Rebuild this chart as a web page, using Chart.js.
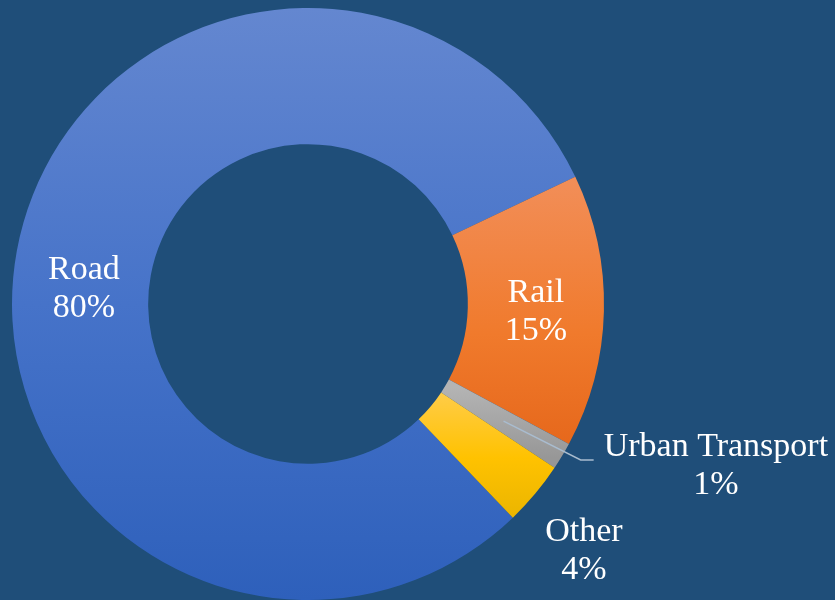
<!DOCTYPE html>
<html>
<head>
<meta charset="utf-8">
<script src="https://cdn.jsdelivr.net/npm/chart.js@4"></script>
<style>
html,body{margin:0;padding:0;background:#1F4E79;}
#wrap{width:835px;height:600px;position:relative;}
</style>
</head>
<body>
<div id="wrap"><canvas id="c" width="835" height="600"></canvas></div>
<script>
const categories = ['Road', 'Rail', 'Urban Transport', 'Other'];
const shares = [80.1, 14.9, 1.5, 3.5];
const shareLabels = ['80%', '15%', '1%', '4%'];

// colour stops per slice (fraction of chart height, colour)
const sliceStops = [
  [[0, '#6487D0'], [0.5, '#4673C9'], [1, '#2E60BB']],
  [[0.29, '#F28E58'], [0.55, '#F07A2C'], [0.76, '#E5661A']],
  [[0.64, '#B4B4B4'], [0.76, '#979797']],
  [[0.65, '#FFCC48'], [0.76, '#FFC200'], [0.87, '#E9B400']]
];
// label placement: null = slice centre, otherwise offset from chart centre in outer radii
const labelPlace = [
  {fx: -0.757, fy: -0.061},
  null,
  {fx: 1.378, fy: 0.537, leader: true},
  {fx: 0.932, fy: 0.824}
];

function gradientFor(ctx, area, stops) {
  const g = ctx.createLinearGradient(0, area.top, 0, area.bottom);
  stops.forEach(s => g.addColorStop(s[0], s[1]));
  return g;
}

const labelPlugin = {
  id: 'sliceLabels',
  afterDatasetsDraw(chart) {
    const ctx = chart.ctx;
    const meta = chart.getDatasetMeta(0);
    ctx.save();
    ctx.font = '34px "Liberation Serif", serif';
    ctx.fillStyle = '#FFFFFF';
    ctx.textAlign = 'center';
    ctx.textBaseline = 'alphabetic';
    meta.data.forEach((arc, i) => {
      const p = arc.getProps(['x', 'y', 'outerRadius'], true);
      let x, y;
      const pl = labelPlace[i];
      if (!pl) {
        const tp = arc.tooltipPosition(true);
        x = tp.x; y = tp.y;
      } else {
        x = p.x + pl.fx * p.outerRadius;
        y = p.y + pl.fy * p.outerRadius;
      }
      if (pl && pl.leader) {
        const tp = arc.tooltipPosition(true);
        const w = ctx.measureText(categories[i]).width;
        const endX = x - w / 2 - 10;
        ctx.strokeStyle = '#A9BCCF';
        ctx.lineWidth = 1.5;
        ctx.beginPath();
        ctx.moveTo(tp.x, tp.y);
        ctx.lineTo(endX - 13, y - 3);
        ctx.lineTo(endX, y - 3);
        ctx.stroke();
      }
      ctx.fillText(categories[i], x, y - 7);
      ctx.fillText(shareLabels[i], x, y + 31);
    });
    ctx.restore();
  }
};

new Chart(document.getElementById('c'), {
  type: 'doughnut',
  data: {
    labels: categories,
    datasets: [{
      data: shares,
      backgroundColor: (c) => {
        const area = c.chart.chartArea;
        if (!area) return '#4472C4';
        return gradientFor(c.chart.ctx, area, sliceStops[c.dataIndex]);
      },
      borderWidth: 0,
      hoverOffset: 0
    }]
  },
  options: {
    responsive: false,
    animation: false,
    cutout: '54%',
    rotation: 136.2,
    layout: {padding: {left: 12, right: 231, top: 8, bottom: 0}},
    plugins: {legend: {display: false}, tooltip: {enabled: false}}
  },
  plugins: [labelPlugin]
});
</script>
</body>
</html>
